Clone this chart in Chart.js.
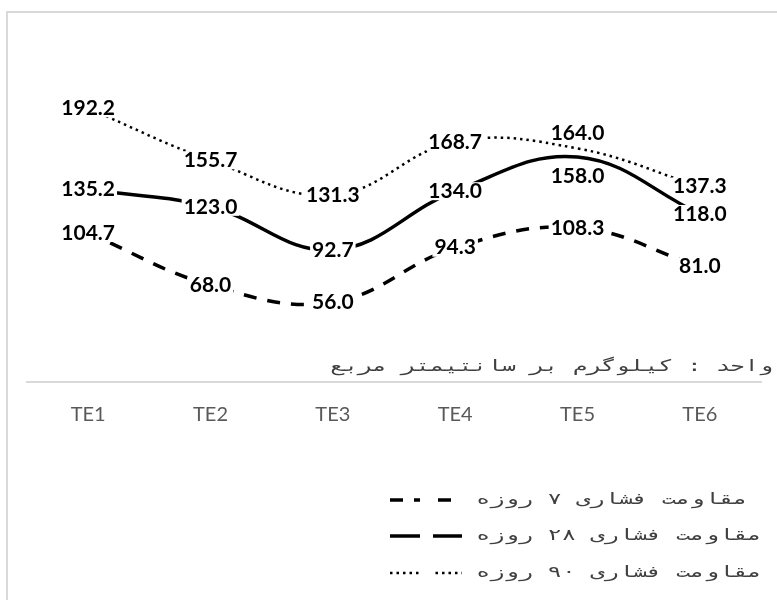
<!DOCTYPE html>
<html>
<head>
<meta charset="utf-8">
<script src="https://cdn.jsdelivr.net/npm/chart.js@4.4.0/dist/chart.umd.min.js"></script>
<style>
  html, body { margin: 0; padding: 0; background: #fff; }
</style>
</head>
<body>
<canvas id="chart" width="777" height="600"></canvas>
<script>
const categories = ["TE1", "TE2", "TE3", "TE4", "TE5", "TE6"];
const day7 = [104.7, 68.0, 56.0, 94.3, 108.3, 81.0];
const day28 = [135.2, 123.0, 92.7, 134.0, 158.0, 118.0];
const day90 = [192.2, 155.7, 131.3, 168.7, 164.0, 137.3];
const seriesNames = ["مقاومت فشاری ۷ روزه", "مقاومت فشاری ۲۸ روزه", "مقاومت فشاری ۹۰ روزه"];
const unitText = "واحد : کیلوگرم بر سانتیمتر مربع";

// a couple of labels sit above / below their point, like in the original
const labelShift = { "1-4": 19, "2-4": -15 };
const mono = '16px "DejaVu Sans Mono"';

const frame = {
  id: "frame",
  beforeDraw(chart) {
    const ctx = chart.ctx;
    ctx.save();
    ctx.fillStyle = "#fff";
    ctx.fillRect(0, 0, chart.width, chart.height);
    ctx.strokeStyle = "#d9d9d9";
    ctx.lineWidth = 2;
    ctx.beginPath();
    ctx.moveTo(7, chart.height);
    ctx.lineTo(7, 12);
    ctx.lineTo(chart.width, 12);
    ctx.stroke();
    ctx.restore();
  },
};

const valueLabels = {
  id: "valueLabels",
  afterDatasetsDraw(chart) {
    const ctx = chart.ctx;
    ctx.save();
    ctx.font = 'bold 21px "Lato"';
    ctx.textAlign = "center";
    ctx.textBaseline = "middle";
    chart.data.datasets.forEach((ds, i) => {
      chart.getDatasetMeta(i).data.forEach((pt, j) => {
        const text = ds.data[j].toFixed(1);
        const y = pt.y + (labelShift[i + "-" + j] || 0);
        const w = ctx.measureText(text).width;
        ctx.fillStyle = "#fff";
        ctx.fillRect(pt.x - w / 2 - 2, y - 9, w + 4, 18);
        ctx.fillStyle = "#000";
        ctx.fillText(text, pt.x, y);
      });
    });
    ctx.restore();
  },
};

// stretched mono text, the original uses a wide spaced arabic face
function wideText(ctx, text, x, y, sx) {
  ctx.save();
  ctx.translate(x, y);
  ctx.scale(sx, 1);
  ctx.fillText(text, 0, 0);
  ctx.restore();
}

const notes = {
  id: "notes",
  afterDraw(chart) {
    const ctx = chart.ctx;
    ctx.save();
    ctx.font = mono;
    ctx.direction = "rtl";
    ctx.textBaseline = "middle";
    ctx.fillStyle = "#404040";
    const sx = 443 / ctx.measureText(unitText).width;
    ctx.textAlign = "right";
    wideText(ctx, unitText, 773, 367, sx);

    const rows = [500, 536, 573];
    chart.data.datasets.forEach((ds, i) => {
      const y = rows[i];
      ctx.strokeStyle = "#000";
      ctx.lineWidth = ds.borderWidth;
      ctx.setLineDash(ds.borderDash || []);
      ctx.beginPath();
      ctx.moveTo(390, y);
      ctx.lineTo(462, y);
      ctx.stroke();
      ctx.fillStyle = "#fff";
      ctx.fillRect(420, y - 4, 13, 8);
      ctx.fillStyle = "#404040";
      ctx.textAlign = "left";
      wideText(ctx, ds.label, 476, y, sx);
    });
    ctx.restore();
  },
};

const common = { borderColor: "#000", pointRadius: 0, tension: 0.4, fill: false };

new Chart(document.getElementById("chart"), {
  type: "line",
  data: {
    labels: categories,
    datasets: [
      { ...common, label: seriesNames[0], data: day7, borderWidth: 3.5, borderDash: [13, 11] },
      { ...common, label: seriesNames[1], data: day28, borderWidth: 3.5 },
      { ...common, label: seriesNames[2], data: day90, borderWidth: 2.5, borderDash: [2.5, 4] },
    ],
  },
  options: {
    responsive: false,
    animation: false,
    layout: { padding: { left: 27, right: 16, top: 26, bottom: 152 } },
    plugins: { legend: { display: false }, tooltip: { enabled: false } },
    scales: {
      x: {
        offset: true,
        grid: { display: false, drawTicks: false },
        border: { color: "#d9d9d9", width: 2 },
        ticks: { color: "#595959", font: { family: "Lato", size: 20 }, padding: 21 },
      },
      y: { display: false, min: 0, max: 250 },
    },
  },
  plugins: [frame, valueLabels, notes],
});
</script>
</body>
</html>
